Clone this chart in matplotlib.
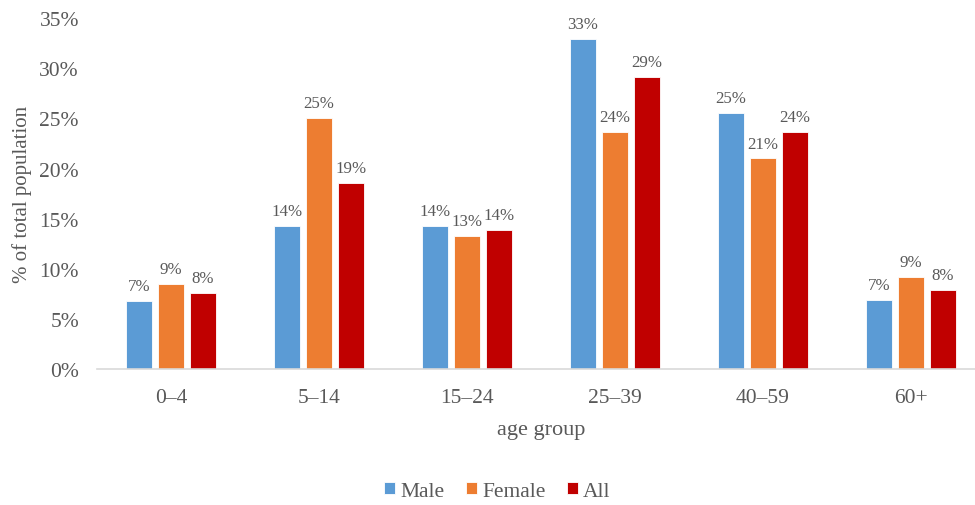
import matplotlib.pyplot as plt
import numpy as np

groups = ["0\u20134", "5\u201314", "15\u201324", "25\u201339", "40\u201359", "60+"]
male = [6.8, 14.3, 14.3, 32.9, 25.5, 6.9]
female = [8.5, 25.0, 13.3, 23.6, 21.0, 9.2]
everyone = [7.6, 18.6, 13.9, 29.1, 23.6, 7.9]
male_lbl = ["7%", "14%", "14%", "33%", "25%", "7%"]
female_lbl = ["9%", "25%", "13%", "24%", "21%", "9%"]
all_lbl = ["8%", "19%", "14%", "29%", "24%", "8%"]

plt.rcParams['font.family'] = ['Liberation Serif', 'DejaVu Serif']
grey = "#595959"

fig = plt.figure(figsize=(9.75, 5.06), dpi=100)
ax = fig.add_axes([0.0995, 0.269, 0.9105, 0.693])

x = np.arange(len(groups))
w = 0.176
step = 0.216
series = [
    (male, male_lbl, "#5b9bd5", "Male"),
    (female, female_lbl, "#ed7d31", "Female"),
    (everyone, all_lbl, "#c00000", "All"),
]
for i, (vals, lbls, col, name) in enumerate(series):
    bars = ax.bar(x + (i - 1) * step, vals, w, color=col, label=name,
                  edgecolor="white", linewidth=0.6)
    for b, t in zip(bars, lbls):
        ax.annotate(t, (b.get_x() + b.get_width() / 2, b.get_height()),
                    xytext=(0, 5), textcoords="offset points",
                    ha="center", va="bottom", fontsize=12.2, color=grey)

ax.set_xlim(-0.5, 5.5)
ax.set_ylim(0, 35)
ax.set_yticks(range(0, 36, 5))
ax.set_yticklabels([f"{v}%" for v in range(0, 36, 5)])
ax.set_xticks(x)
ax.set_xticklabels(groups)
ax.tick_params(axis="both", length=0, labelsize=15.5, colors=grey)
ax.tick_params(axis="x", pad=14)
ax.tick_params(axis="y", pad=13)

for s in ["top", "right", "left"]:
    ax.spines[s].set_visible(False)
ax.spines["bottom"].set_color("#d9d9d9")
ax.spines["bottom"].set_linewidth(1.2)

ax.set_xlabel("age group", fontsize=16, color=grey, labelpad=9)
ax.set_ylabel("% of total population", fontsize=15, color=grey, labelpad=5)

fig.legend(loc="center", bbox_to_anchor=(0.51, 0.027), ncol=3, frameon=False,
           fontsize=15.5, handlelength=0.5, handleheight=0.5, handletextpad=0.25,
           columnspacing=1.0, labelcolor=grey)

fig.savefig("out.png", dpi=100)
